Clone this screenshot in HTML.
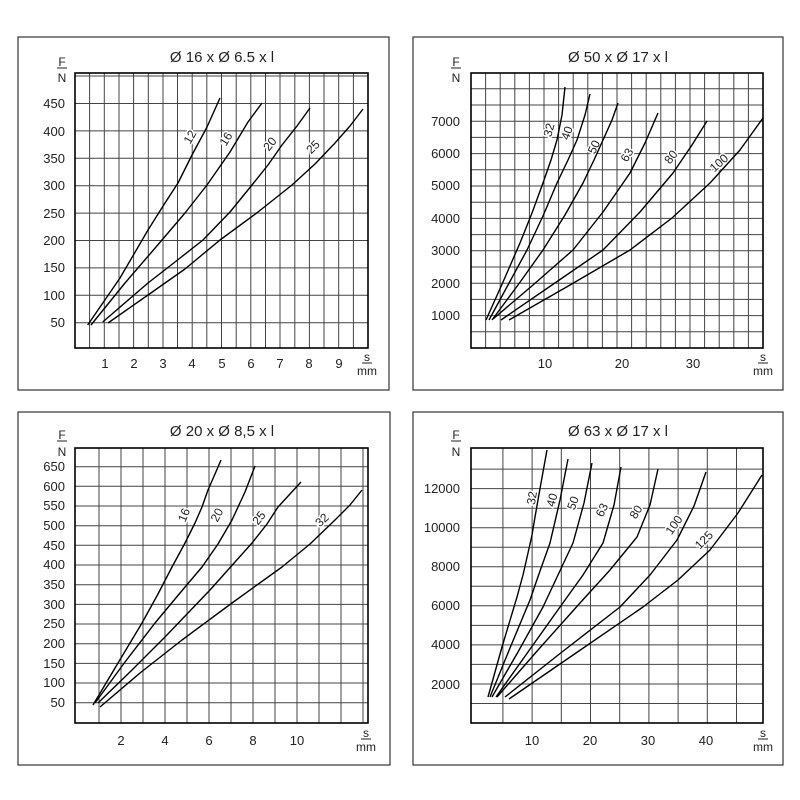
<!DOCTYPE html>
<html><head><meta charset="utf-8"><style>
html,body{margin:0;padding:0;background:#fff}
svg{display:block}
text{font-family:"Liberation Sans","DejaVu Sans",sans-serif;fill:#222}
.t{font-size:15px;text-anchor:middle}
.yl{font-size:13px;text-anchor:end}
.xl{font-size:13px;text-anchor:middle}
.u{font-size:12px;text-anchor:middle}
.g{stroke:#444;stroke-width:1;fill:none}
.c{stroke:#000;stroke-width:1.4;fill:none;stroke-linejoin:round}
.lb{font-size:12px;text-anchor:middle}
.lb text{paint-order:stroke;stroke:#fff;stroke-width:3px}
.bx{fill:none;stroke:#333;stroke-width:1.2}
.pa{fill:none;stroke:#000;stroke-width:1.6}
</style></head><body>
<svg width="800" height="800" viewBox="0 0 800 800" xmlns="http://www.w3.org/2000/svg">
<rect x="0" y="0" width="800" height="800" fill="#fff"/>
<rect class="bx" x="18" y="37" width="371" height="353"/>
<rect class="bx" x="413" y="37" width="370" height="353"/>
<rect class="bx" x="18" y="412" width="372" height="353"/>
<rect class="bx" x="413" y="412" width="370" height="353"/>

<!-- Panel 1 -->
<g class="g">
<path d="M89.6 73V348M104.3 73V348M119 73V348M133.6 73V348M148.3 73V348M163 73V348M177.5 73V348M192.2 73V348M206.8 73V348M221.5 73V348M236.2 73V348M250.8 73V348M265.5 73V348M280 73V348M294.8 73V348M309.4 73V348M324 73V348M338.7 73V348M353.4 73V348"/>
<path d="M75 322.7H368M75 295.3H368M75 267.9H368M75 240.5H368M75 213.1H368M75 185.7H368M75 158.3H368M75 130.9H368M75 103.5H368M75 76H368"/>
</g>
<rect class="pa" x="75" y="73" width="293" height="275"/>
<g class="lb">
<text x="190" y="141" transform="rotate(-60 190 137)">12</text>
<text x="226" y="143" transform="rotate(-58 226 139)">16</text>
<text x="270" y="148" transform="rotate(-52 270 144)">20</text>
<text x="313" y="151" transform="rotate(-45 313 147)">25</text>
</g>
<g class="c">
<polyline points="87.7,325 120,278 148,230 165,203 178,183 192,155 207,127 220,98"/>
<polyline points="91,325 125,283 162,240 185,213 207,185 230,152 248,122 262,103"/>
<polyline points="102.7,322 148,283 175,262 203,240 230,212 252,185 268,165 282,145 297,126 310,108"/>
<polyline points="108,323 148,295 185,269 220,240 258,212 292,185 315,164 335,143 350,126 363,109"/>
</g>
<text class="t" x="222" y="62">Ø 16 x Ø 6.5 x l</text>
<text class="u" x="62" y="66">F</text><line x1="57" y1="68" x2="67" y2="68" stroke="#222"/>
<text class="u" x="62" y="82">N</text>
<g class="yl">
<text x="65" y="327">50</text><text x="65" y="300">100</text><text x="65" y="272">150</text><text x="65" y="245">200</text><text x="65" y="218">250</text><text x="65" y="190">300</text><text x="65" y="163">350</text><text x="65" y="136">400</text><text x="65" y="108">450</text>
</g>
<g class="xl">
<text x="105" y="368">1</text><text x="134" y="368">2</text><text x="163" y="368">3</text><text x="192" y="368">4</text><text x="222" y="368">5</text><text x="251" y="368">6</text><text x="280" y="368">7</text><text x="309" y="368">8</text><text x="339" y="368">9</text>
</g>
<text class="u" x="367" y="361">s</text><line x1="362" y1="363" x2="372" y2="363" stroke="#222"/>
<text class="u" x="367" y="375">mm</text>

<!-- Panel 2 -->
<g class="g">
<path d="M485.6 73V348M500.2 73V348M514.8 73V348M529.4 73V348M544 73V348M558.6 73V348M573.2 73V348M587.8 73V348M602.4 73V348M617 73V348M631.6 73V348M646.2 73V348M660.8 73V348M675.4 73V348M690 73V348M704.6 73V348M719.2 73V348M733.8 73V348M748.4 73V348"/>
<path d="M471 331.8H763M471 315.6H763M471 299.4H763M471 283.2H763M471 267H763M471 250.8H763M471 234.6H763M471 218.4H763M471 202.2H763M471 186H763M471 169.8H763M471 153.6H763M471 137.4H763M471 121.2H763M471 105H763M471 88.8H763"/>
</g>
<rect class="pa" x="471" y="73" width="292" height="275"/>
<g class="lb">
<text x="549" y="134" transform="rotate(-75 549 130)">32</text>
<text x="567" y="137" transform="rotate(-70 567 133)">40</text>
<text x="594" y="151" transform="rotate(-65 594 147)">50</text>
<text x="627" y="159" transform="rotate(-60 627 155)">63</text>
<text x="671" y="161" transform="rotate(-52 671 157)">80</text>
<text x="719" y="167" transform="rotate(-42 719 163)">100</text>
</g>
<g class="c">
<polyline points="486,320 503,282 520,243 532,213 543,183 551,160 557,140 562,115 565,87"/>
<polyline points="489,320 508,285 527,250 543,216 557,183 568,160 577,140 585,115 590,94"/>
<polyline points="492,320 518,285 543,250 565,215 583,183 594,160 603,140 612,120 618,103"/>
<polyline points="493,319 533,285 573,250 603,212 630,173 645,143 658,113"/>
<polyline points="501,320 552,285 603,250 640,212 673,173 692,145 707,121"/>
<polyline points="509,320 570,285 630,250 672,218 710,183 740,150 763,118"/>
</g>
<text class="t" x="618" y="62">Ø 50 x Ø 17 x l</text>
<text class="u" x="456" y="66">F</text><line x1="451" y1="68" x2="461" y2="68" stroke="#222"/>
<text class="u" x="456" y="82">N</text>
<g class="yl">
<text x="460" y="320">1000</text><text x="460" y="288">2000</text><text x="460" y="255">3000</text><text x="460" y="223">4000</text><text x="460" y="190">5000</text><text x="460" y="158">6000</text><text x="460" y="126">7000</text>
</g>
<g class="xl"><text x="545" y="368">10</text><text x="622" y="368">20</text><text x="693" y="368">30</text></g>
<text class="u" x="763" y="361">s</text><line x1="758" y1="363" x2="768" y2="363" stroke="#222"/>
<text class="u" x="763" y="375">mm</text>

<!-- Panel 3 -->
<g class="g">
<path d="M99 448V723M121 448V723M143 448V723M165 448V723M187 448V723M209 448V723M231 448V723M253 448V723M275 448V723M297 448V723M319 448V723M341 448V723M363 448V723"/>
<path d="M75 702.7H368M75 683H368M75 663.4H368M75 643.7H368M75 624H368M75 604.4H368M75 584.7H368M75 565H368M75 545.3H368M75 525.7H368M75 506H368M75 486.3H368M75 466.7H368"/>
</g>
<rect class="pa" x="75" y="448" width="293" height="275"/>
<g class="lb">
<text x="184" y="519" transform="rotate(-68 184 515)">16</text>
<text x="217" y="519" transform="rotate(-62 217 515)">20</text>
<text x="259" y="522" transform="rotate(-52 259 518)">25</text>
<text x="322" y="524" transform="rotate(-42 322 520)">32</text>
</g>
<g class="c">
<polyline points="93,705 118,663 142,623 158,594 172,567 185,543 195,523 202,507 208,490 215,474 221,460"/>
<polyline points="95,703 125,662 155,623 180,593 202,567 218,544 232,520 245,492 255,466"/>
<polyline points="98,703 132,670 165,637 210,590 252,543 267,524 278,507 290,494 301,482"/>
<polyline points="100,707 140,673 182,640 232,603 282,567 310,544 335,520 350,505 362,490"/>
</g>
<text class="t" x="222" y="436">Ø 20 x Ø 8,5 x l</text>
<text class="u" x="62" y="439">F</text><line x1="57" y1="441" x2="67" y2="441" stroke="#222"/>
<text class="u" x="62" y="456">N</text>
<g class="yl">
<text x="65" y="707">50</text><text x="65" y="687">100</text><text x="65" y="668">150</text><text x="65" y="648">200</text><text x="65" y="628">250</text><text x="65" y="609">300</text><text x="65" y="589">350</text><text x="65" y="569">400</text><text x="65" y="550">450</text><text x="65" y="530">500</text><text x="65" y="510">550</text><text x="65" y="491">600</text><text x="65" y="471">650</text>
</g>
<g class="xl"><text x="121" y="745">2</text><text x="165" y="745">4</text><text x="209" y="745">6</text><text x="253" y="745">8</text><text x="297" y="745">10</text></g>
<text class="u" x="366" y="737">s</text><line x1="361" y1="739" x2="371" y2="739" stroke="#222"/>
<text class="u" x="366" y="751">mm</text>

<!-- Panel 4 -->
<g class="g">
<path d="M502.9 448V723M532.1 448V723M561.3 448V723M590.5 448V723M619.7 448V723M648.9 448V723M678.1 448V723M707.3 448V723M736.5 448V723"/>
<path d="M471 703.5H763M471 684H763M471 664.4H763M471 644.9H763M471 625.4H763M471 605.8H763M471 586.3H763M471 566.8H763M471 547.2H763M471 527.7H763M471 508.2H763M471 488.6H763M471 469.1H763"/>
</g>
<rect class="pa" x="471" y="448" width="292" height="275"/>
<g class="lb">
<text x="532" y="502" transform="rotate(-80 532 498)">32</text>
<text x="552" y="504" transform="rotate(-75 552 500)">40</text>
<text x="573" y="507" transform="rotate(-70 573 503)">50</text>
<text x="602" y="514" transform="rotate(-65 602 510)">63</text>
<text x="636" y="516" transform="rotate(-58 636 512)">80</text>
<text x="674" y="529" transform="rotate(-55 674 525)">100</text>
<text x="704" y="544" transform="rotate(-45 704 540)">125</text>
</g>
<g class="c">
<polyline points="488,697 502,647 517,597 523,575 528,553 532,535 535,517 541,483 547,450"/>
<polyline points="490,697 510,648 530,600 540,571 550,543 560,500 568,459"/>
<polyline points="492,697 518,652 543,607 558,575 573,543 584,503 592,463"/>
<polyline points="496,697 528,652 560,607 583,575 603,543 614,505 621,467"/>
<polyline points="497,697 538,650 580,603 610,570 637,537 650,505 658,469"/>
<polyline points="505,697 562,652 620,607 650,575 677,540 694,506 706,472"/>
<polyline points="509,699 576,653 643,607 678,580 710,550 738,513 762,475"/>
</g>
<text class="t" x="618" y="436">Ø 63 x Ø 17 x l</text>
<text class="u" x="456" y="439">F</text><line x1="451" y1="441" x2="461" y2="441" stroke="#222"/>
<text class="u" x="456" y="456">N</text>
<g class="yl">
<text x="460" y="689">2000</text><text x="460" y="649">4000</text><text x="460" y="610">6000</text><text x="460" y="571">8000</text><text x="460" y="532">10000</text><text x="460" y="493">12000</text>
</g>
<g class="xl"><text x="532" y="745">10</text><text x="590" y="745">20</text><text x="648" y="745">30</text><text x="706" y="745">40</text></g>
<text class="u" x="763" y="737">s</text><line x1="758" y1="739" x2="768" y2="739" stroke="#222"/>
<text class="u" x="763" y="751">mm</text>
</svg>
</body></html>
